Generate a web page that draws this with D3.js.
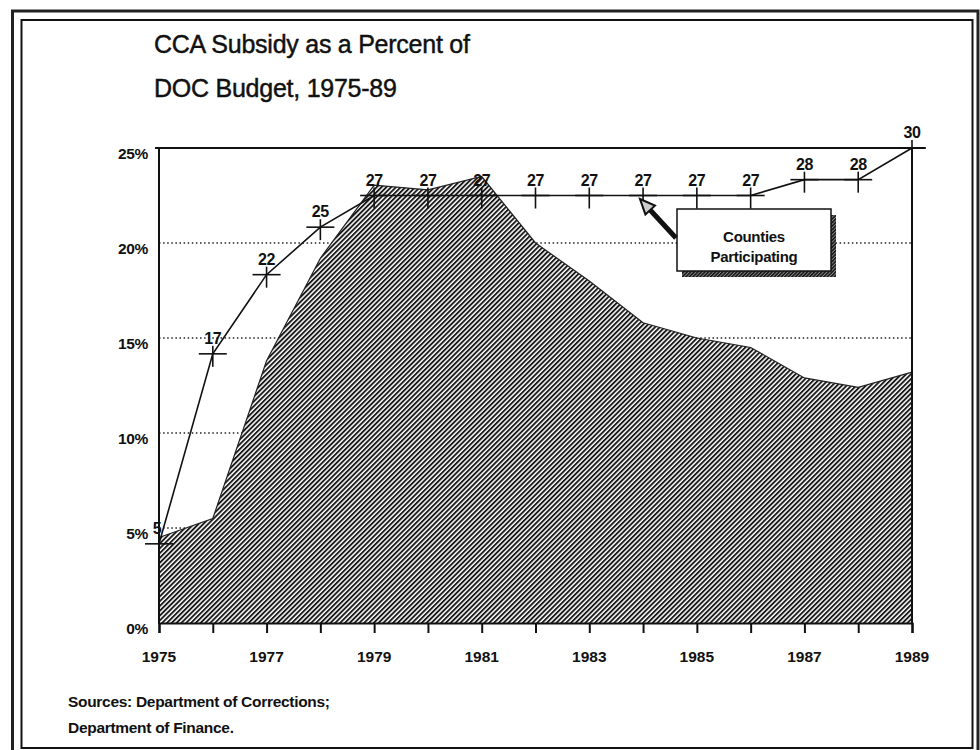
<!DOCTYPE html>
<html>
<head>
<meta charset="utf-8">
<script src="https://cdn.jsdelivr.net/npm/d3@7"></script>
<style>
  html, body { margin: 0; padding: 0; background: #fff; }
  svg { display: block; }
  text { font-family: "Liberation Sans", Arial, Helvetica, sans-serif; fill: #111; }
</style>
</head>
<body>
<svg id="chart" width="980" height="750"></svg>
<script>
// ---- Data ----
const years = [1975,1976,1977,1978,1979,1980,1981,1982,1983,1984,1985,1986,1987,1988,1989];
const subsidyPct = [4.5,5.5,13.8,19.2,23.05,22.8,23.5,20.0,18.0,15.8,15.0,14.5,12.9,12.4,13.2];
const countiesParticipating = [5,17,22,25,27,27,27,27,27,27,27,27,28,28,30];
const yTicks = [0,5,10,15,20,25];
const xLabelYears = [1975,1977,1979,1981,1983,1985,1987,1989];
const titleLines = ["CCA Subsidy as a Percent of", "DOC Budget, 1975-89"];
const sourceLines = ["Sources: Department of Corrections;", "Department of Finance."];
const calloutLines = ["Counties", "Participating"];

const svg = d3.select("#chart");
const W = 980, H = 750;
const plot = {left: 159, right: 912, top: 148, bottom: 623};

const x = d3.scaleLinear().domain([1975, 1989]).range([plot.left, plot.right]);
const y = d3.scaleLinear().domain([0, 25]).range([plot.bottom, plot.top]);
const yc = d3.scaleLinear().domain([0, 30]).range([plot.bottom, plot.top]);

// ---- defs: hatch pattern ----
const defs = svg.append("defs");
const pat = defs.append("pattern")
  .attr("id", "hatch").attr("patternUnits", "userSpaceOnUse")
  .attr("width", 3.4).attr("height", 3.4)
  .attr("patternTransform", "rotate(45)");
pat.append("rect").attr("width", 3.4).attr("height", 3.4).attr("fill", "#fff");
pat.append("rect").attr("width", 1.9).attr("height", 3.4).attr("fill", "#1a1a1a");

const pat2 = defs.append("pattern")
  .attr("id", "hatch2").attr("patternUnits", "userSpaceOnUse")
  .attr("width", 2.5).attr("height", 2.5)
  .attr("patternTransform", "rotate(45)");
pat2.append("rect").attr("width", 2.5).attr("height", 2.5).attr("fill", "#888");
pat2.append("rect").attr("width", 1.5).attr("height", 2.5).attr("fill", "#111");

// ---- background and page frames ----
svg.append("rect").attr("width", W).attr("height", H).attr("fill", "#fff");
svg.append("path")
  .attr("d", `M12.5,${H+5} L12.5,11 L978,11 L978,${H+5}`)
  .attr("fill", "none").attr("stroke", "#222").attr("stroke-width", 3);
svg.append("rect")
  .attr("x", 21.5).attr("y", 20).attr("width", 951).attr("height", 728)
  .attr("fill", "none").attr("stroke", "#111").attr("stroke-width", 2);

// ---- title ----
svg.append("g").selectAll("text").data(titleLines).join("text")
  .attr("x", 154).attr("y", (d, i) => 53 + i * 44)
  .attr("font-size", 25).attr("letter-spacing", -0.25)
  .attr("stroke", "#111").attr("stroke-width", 0.45)
  .text(d => d);

// ---- gridlines (dotted) ----
svg.append("g").selectAll("line").data(yTicks.filter(t => t > 0 && t < 25)).join("line")
  .attr("x1", plot.left).attr("x2", plot.right)
  .attr("y1", d => y(d)).attr("y2", d => y(d))
  .attr("stroke", "#222").attr("stroke-width", 1.5)
  .attr("stroke-dasharray", "1.5,2.6");

// ---- area ----
const area = d3.area()
  .x((d, i) => x(years[i]))
  .y0(y(0))
  .y1(d => y(d));
svg.append("path").datum(subsidyPct)
  .attr("d", area)
  .attr("fill", "url(#hatch)");
svg.append("path").datum(subsidyPct)
  .attr("d", d3.line().x((d, i) => x(years[i])).y(d => y(d)))
  .attr("fill", "none").attr("stroke", "#222").attr("stroke-width", 1.2);

// ---- axes frame ----
const frame = svg.append("g").attr("stroke", "#111").attr("fill", "none");
frame.append("line").attr("x1", plot.left).attr("x2", plot.left)
  .attr("y1", plot.top).attr("y2", plot.bottom + 1).attr("stroke-width", 2);
frame.append("line").attr("x1", plot.left - 4).attr("x2", plot.right + 13)
  .attr("y1", plot.top).attr("y2", plot.top).attr("stroke-width", 2);
frame.append("line").attr("x1", plot.right).attr("x2", plot.right)
  .attr("y1", plot.top).attr("y2", plot.bottom).attr("stroke-width", 2);

// x axis
const xAxis = d3.axisBottom(x).tickValues(years).tickSize(10).tickFormat("");
const gx = svg.append("g").attr("transform", `translate(0,${plot.bottom})`).call(xAxis);
gx.select(".domain").attr("stroke", "#111").attr("stroke-width", 2.2);
gx.selectAll(".tick line").attr("stroke", "#111").attr("stroke-width", 2);
svg.append("g").selectAll("text").data(xLabelYears).join("text")
  .attr("x", d => x(d)).attr("y", 662)
  .attr("text-anchor", "middle").attr("font-size", 15.5).attr("font-weight", "bold")
  .text(d => d);

// y axis labels
const yAxis = d3.axisLeft(y).tickValues(yTicks).tickSize(0).tickFormat(d => d + "%");
const gy = svg.append("g").attr("transform", `translate(${plot.left - 11},0)`).call(yAxis);
gy.select(".domain").remove();
gy.selectAll(".tick text")
  .attr("x", 0).attr("dy", null).attr("y", 10)
  .attr("font-size", 15.5).attr("font-weight", "bold").attr("letter-spacing", -0.3)
  .attr("font-family", "'Liberation Sans', Arial, sans-serif").attr("fill", "#111");

// ---- counties line ----
svg.append("path").datum(countiesParticipating)
  .attr("d", d3.line().x((d, i) => x(years[i])).y(d => yc(d)))
  .attr("fill", "none").attr("stroke", "#111").attr("stroke-width", 1.6);

const mk = svg.append("g").selectAll("g").data(countiesParticipating).join("g")
  .attr("transform", (d, i) => `translate(${x(years[i])},${yc(d)})`);
mk.append("line").attr("x1", -14).attr("x2", 14).attr("y1", 0).attr("y2", 0)
  .attr("stroke", "#111").attr("stroke-width", 1.6);
mk.append("line").attr("x1", 0).attr("x2", 0).attr("y1", -8).attr("y2", 13)
  .attr("stroke", "#111").attr("stroke-width", 1.6);
mk.append("text")
  .attr("x", (d, i) => i === 0 ? -2 : 0).attr("y", -10)
  .attr("text-anchor", "middle").attr("font-size", 16).attr("font-weight", "bold")
  .attr("letter-spacing", -0.4)
  .text(d => d);

// ---- callout box ----
const box = {x: 677, y: 209, w: 154, h: 62};
svg.append("rect")
  .attr("x", box.x + 5).attr("y", box.y + 6).attr("width", box.w).attr("height", box.h)
  .attr("fill", "url(#hatch2)");
svg.append("rect")
  .attr("x", box.x).attr("y", box.y).attr("width", box.w).attr("height", box.h)
  .attr("fill", "#fff").attr("stroke", "#111").attr("stroke-width", 1.5);
svg.append("g").selectAll("text").data(calloutLines).join("text")
  .attr("x", box.x + box.w / 2).attr("y", (d, i) => 242 + i * 20)
  .attr("text-anchor", "middle").attr("font-size", 15).attr("font-weight", "bold")
  .attr("letter-spacing", -0.3)
  .text(d => d);

// arrow
const tail = [box.x - 1, 238], tip = [640, 199];
const ang = Math.atan2(tip[1] - tail[1], tip[0] - tail[0]);
const headLen = 15, headW = 6.5;
const base = [tip[0] - headLen * Math.cos(ang), tip[1] - headLen * Math.sin(ang)];
svg.append("line")
  .attr("x1", tail[0]).attr("y1", tail[1]).attr("x2", base[0]).attr("y2", base[1])
  .attr("stroke", "#111").attr("stroke-width", 5);
const nx = -Math.sin(ang), ny = Math.cos(ang);
svg.append("path")
  .attr("d", `M${tip[0]},${tip[1]} L${base[0] + nx * headW},${base[1] + ny * headW} L${base[0] - nx * headW},${base[1] - ny * headW} Z`)
  .attr("fill", "#ccc").attr("stroke", "#111").attr("stroke-width", 2).attr("stroke-linejoin", "miter");

// ---- sources ----
svg.append("g").selectAll("text").data(sourceLines).join("text")
  .attr("x", 68).attr("y", (d, i) => 707 + i * 26)
  .attr("font-size", 15.5).attr("font-weight", "bold").attr("letter-spacing", -0.3)
  .text(d => d);
</script>
</body>
</html>
